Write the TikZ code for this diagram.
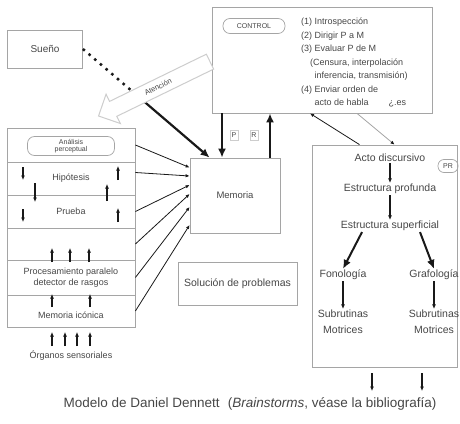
\documentclass[tikz,border=0pt]{standalone}
\usepackage{fontspec}
\setmainfont{Liberation Sans}
\usepackage{tikz}
\usetikzlibrary{arrows.meta, positioning, shapes.arrows, calc}
\definecolor{mydark}{RGB}{25,25,25}
\definecolor{mytext}{RGB}{70,70,70}
\definecolor{myline}{RGB}{165,165,165}
\definecolor{mylight}{RGB}{205,205,205}
\tikzset{
  box/.style={rectangle, draw=myline, line width=0.8pt, text=mytext,
    align=center, inner sep=0pt},
  rowbox/.style={rectangle, draw=myline, line width=0.8pt, text=mytext,
    minimum width=128pt, align=center, inner sep=0pt,
    font=\fontsize{9}{11}\selectfont},
  oval/.style={rectangle, draw=myline, rounded corners=7pt, line width=0.7pt,
    text=mytext, align=center, inner sep=1pt},
  lbl/.style={text=mytext, align=center, inner sep=1pt,
    font=\fontsize{9}{11}\selectfont},
  prlbl/.style={text=mytext, align=center, inner sep=1pt,
    font=\fontsize{10.5}{16}\selectfont},
  arrow/.style={-{Latex[length=4pt,width=3.5pt]}, line width=0.8pt, color=mydark},
  minarrow/.style={-{Latex[length=4.5pt,width=4pt]}, line width=1.1pt, color=mydark},
  bigarrow/.style={-{Latex[length=9pt,width=8pt]}, line width=2.2pt, color=mydark}
}
\begin{document}
\begin{tikzpicture}[x=1pt, y=-1pt]
  \useasboundingbox (0,0) rectangle (460,423);

  % Control
  \node[box, minimum width=220pt, minimum height=106pt] (ctrl) at (322,60) {};
  \node[oval, minimum width=62pt, minimum height=15pt, font=\fontsize{7}{8}\selectfont] (control) at (254,26) {CONTROL};
  \node[lbl, anchor=north west, align=left, font=\fontsize{9}{13.5}\selectfont] (pasos) at (300,17)
    {(1) Introspección\\(2) Dirigir P a M\\(3) Evaluar P de M\\\hspace*{1em}(Censura, interpolación\\\hspace*{1.5em}inferencia, transmisión)\\(4) Enviar orden de\\\hspace*{1.5em}acto de habla\hspace{2.2em}¿.es};

  % Sueño, Memoria, Solución
  \node[box, minimum width=75pt, minimum height=38pt, font=\fontsize{10}{12}\selectfont] (sueno) at (45,49) {Sueño};
  \node[box, minimum width=90pt, minimum height=75pt, font=\fontsize{9.5}{11}\selectfont] (mem) at (235,195.5) {Memoria};
  \node[box, minimum width=119pt, minimum height=43pt, font=\fontsize{10.5}{12}\selectfont] (solucion) at (237.5,283.5) {Solución de problemas};

  % Columna perceptual
  \node[rowbox, minimum height=34pt] (r1) at (71,145) {};
  \node[rowbox, minimum height=33pt] (r2) at (71,178.5) {Hipótesis};
  \node[rowbox, minimum height=33pt] (r3) at (71,211.5) {Prueba};
  \node[rowbox, minimum height=32pt] (r4) at (71,244) {};
  \node[rowbox, minimum height=35pt] (r5) at (71,277.5) {Procesamiento paralelo\\detector de rasgos};
  \node[rowbox, minimum height=32pt] (r6) at (71,311) {};
  \node[oval, minimum width=87pt, minimum height=19pt, font=\fontsize{7}{7.5}\selectfont] (analisis) at (71,146) {Análisis\\perceptual};
  \node[lbl] (iconica) at (71,315) {Memoria icónica};
  \node[lbl] (organos) at (71,356) {Órganos sensoriales};

  \foreach \x/\ya/\yb in {23/167/180, 118/180/166, 35/183/202, 107/201/184,
      23/209/222, 118/222/208, 52/262/248, 70/262/248, 89/262/248,
      52/307/294, 90/307/294, 52/346/332, 65/346/332, 77/346/332, 90/346/332}
    \draw[minarrow] (\x,\ya) -- (\x,\yb);

  \draw[arrow] (r1.east) -- ([yshift=28pt]mem.west);
  \draw[arrow] ([yshift=6pt]r2.east) -- ([yshift=19.5pt]mem.west);
  \draw[arrow] (r3.east) -- ([yshift=10.5pt]mem.west);
  \draw[arrow] (r4.east) -- ([yshift=1.5pt]mem.west);
  \draw[arrow] (r5.east) -- ([yshift=-11.5pt]mem.west);
  \draw[arrow] (r6.east) -- ([yshift=-29.5pt]mem.west);

  % Sueño -> Memoria, bajo la flecha de atención
  \coordinate (cruce) at (140,98);
  \draw[line width=2.5pt, dash pattern=on 2.5pt off 5pt, mydark] (sueno.east) -- (cruce);
  \draw[bigarrow] (cruce) -- ([xshift=20pt]mem.north west);
  \node[single arrow, draw=mylight, fill=white, line width=1pt, rotate=26,
    shape border rotate=180, minimum height=124pt, single arrow head extend=8pt,
    inner xsep=3pt, inner ysep=5pt, font=\fontsize{7.5}{8}\selectfont, text=mytext] (atencion) at (158,87) {Atención};

  % P y R
  \draw[bigarrow] ([xshift=-100pt]ctrl.south) -- ([xshift=-13pt]mem.north);
  \draw[bigarrow] ([xshift=35pt]mem.north) -- ([xshift=-52pt]ctrl.south);
  \node[box, draw=mylight, minimum width=8pt, minimum height=10pt, font=\fontsize{7}{8}\selectfont] (p) at (234,135) {P};
  \node[box, draw=mylight, minimum width=8pt, minimum height=10pt, font=\fontsize{7}{8}\selectfont] (r) at (254,135) {R};

  % PR
  \node[box, minimum width=145pt, minimum height=222pt] (pr) at (384.5,256) {};
  \node[oval, minimum width=20pt, minimum height=13pt, rounded corners=6pt, font=\fontsize{7}{8}\selectfont] (prlabel) at (448,166) {PR};
  \node[prlbl] (acto) at (390,158) {Acto discursivo};
  \node[prlbl] (profunda) at (390,189) {Estructura profunda};
  \node[prlbl] (superficial) at (390,226) {Estructura superficial};
  \node[prlbl] (fono) at (343,275) {Fonología};
  \node[prlbl] (grafo) at (434,275) {Grafología};
  \node[prlbl] (subfono) at (343,322) {Subrutinas\\Motrices};
  \node[prlbl] (subgrafo) at (434,322) {Subrutinas\\Motrices};

  \draw[minarrow] (acto) -- (profunda);
  \draw[minarrow] (profunda) -- (superficial);
  \draw[bigarrow, line width=2pt] ([xshift=-28pt]superficial.south) -- (fono.north);
  \draw[bigarrow, line width=2pt] ([xshift=30pt]superficial.south) -- (grafo.north);
  \draw[minarrow] (fono) -- (subfono);
  \draw[minarrow] (grafo) -- (subgrafo);

  % Control <-> PR
  \draw[arrow] ([xshift=-25pt]pr.north) -- ([xshift=-12pt]ctrl.south);
  \draw[myline, line width=0.8pt, -{Latex[length=4pt,width=3.5pt,color=mydark]}] ([xshift=35pt]ctrl.south) -- ([xshift=10pt]pr.north);

  % Salidas
  \coordinate (sal1) at (372,373);
  \coordinate (fin1) at (372,391);
  \coordinate (sal2) at (422,373);
  \coordinate (fin2) at (422,391);
  \draw[minarrow] (sal1) -- (fin1);
  \draw[minarrow] (sal2) -- (fin2);

  \node[text=mytext, font=\fontsize{13.5}{15}\selectfont] (titulo) at (250,404)
    {Modelo de Daniel Dennett\hspace{0.6em}(\textit{Brainstorms}, véase la bibliografía)};
\end{tikzpicture}
\end{document}
